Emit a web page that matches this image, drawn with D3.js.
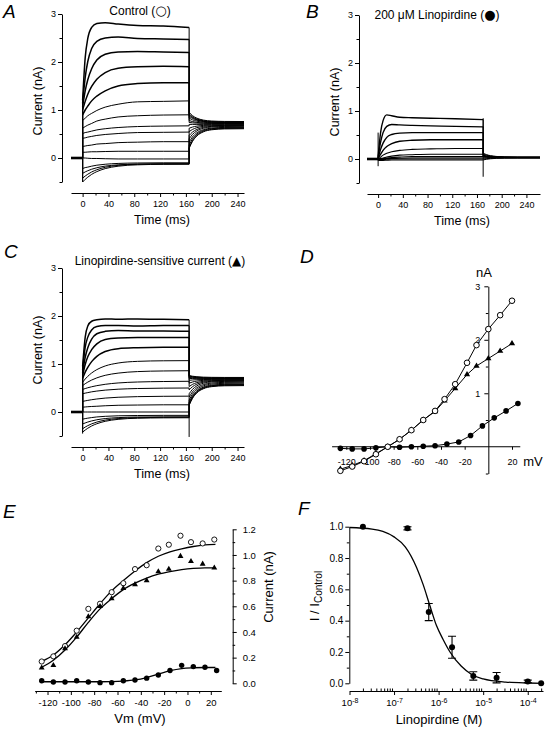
<!DOCTYPE html>
<html><head><meta charset="utf-8">
<script src="https://cdn.jsdelivr.net/npm/d3@7"></script>
<style>
body{margin:0;background:#fff;}
svg{display:block;}
</style></head><body>
<svg id="fig" width="549" height="730"></svg>
<script>
// ================= DATA =================
// Panels A, B, C: current traces (nA) sampled at the listed times (ms)
const pulseTimesAC = [0,4,8,14,22,35,55,85,125,165];
const tailTimesAC  = [165,170,177,187,200,220,250];
const pulseTimesB  = [0,4,8,14,22,35,55,85,125,170];
const tailTimesB   = [170,175,182,192,205,225,262];
const preTimes     = [-18,0];
const timeTickLabels = [0,40,80,120,160,200,240];

const controlPulse = [
 [1.20,2.09,2.49,2.72,2.80,2.82,2.79,2.76,2.75,2.72],
 [1.14,1.68,2.01,2.28,2.43,2.50,2.52,2.49,2.48,2.47],
 [1.07,1.40,1.63,1.86,2.04,2.16,2.21,2.22,2.21,2.20],
 [1.00,1.18,1.33,1.49,1.64,1.78,1.87,1.90,1.91,1.90],
 [0.90,1.00,1.08,1.19,1.29,1.40,1.50,1.55,1.57,1.57],
 [0.78,0.83,0.88,0.93,0.99,1.06,1.12,1.17,1.18,1.19],
 [0.62,0.655,0.685,0.72,0.77,0.81,0.855,0.88,0.895,0.90],
 [0.51,0.53,0.54,0.56,0.585,0.61,0.635,0.655,0.665,0.67],
 [0.41,0.42,0.435,0.45,0.47,0.49,0.51,0.53,0.535,0.54],
 [0.24,0.25,0.26,0.27,0.29,0.30,0.32,0.33,0.34,0.34],
 [0.12,0.12,0.125,0.13,0.13,0.135,0.14,0.14,0.14,0.14],
 [0.0,0.0,-0.005,-0.01,-0.01,-0.015,-0.02,-0.02,-0.02,-0.02],
 [-0.22,-0.20,-0.19,-0.17,-0.15,-0.13,-0.113,-0.104,-0.10,-0.10],
 [-0.32,-0.29,-0.265,-0.234,-0.203,-0.169,-0.142,-0.127,-0.121,-0.12],
 [-0.42,-0.376,-0.338,-0.291,-0.245,-0.194,-0.153,-0.13,-0.122,-0.12],
 [-0.50,-0.445,-0.399,-0.341,-0.284,-0.221,-0.171,-0.142,-0.132,-0.13]
];
const controlTail = [
 [0.95,0.885,0.83,0.79,0.77,0.762,0.76],
 [0.92,0.862,0.813,0.777,0.759,0.752,0.75],
 [0.90,0.845,0.799,0.766,0.749,0.742,0.74],
 [0.87,0.826,0.788,0.761,0.747,0.741,0.74],
 [0.83,0.796,0.767,0.746,0.735,0.731,0.73],
 [0.78,0.76,0.742,0.73,0.723,0.721,0.72],
 [0.74,0.733,0.727,0.723,0.721,0.72,0.72],
 [0.70,0.70,0.70,0.70,0.70,0.70,0.70],
 [0.62,0.644,0.664,0.679,0.686,0.689,0.69],
 [0.55,0.594,0.632,0.659,0.673,0.679,0.68],
 [0.47,0.538,0.596,0.638,0.659,0.668,0.67],
 [0.40,0.489,0.564,0.618,0.646,0.657,0.66],
 [0.33,0.436,0.526,0.59,0.623,0.637,0.64],
 [0.27,0.393,0.498,0.572,0.611,0.626,0.63],
 [0.22,0.356,0.473,0.556,0.598,0.616,0.62],
 [0.20,0.34,0.459,0.544,0.588,0.606,0.61]
];
const linoPulse = [
 [0.05,0.55,0.80,0.92,0.90,0.87,0.86,0.85,0.84,0.82],
 [0.03,0.35,0.55,0.68,0.72,0.71,0.70,0.69,0.68,0.67],
 [0.02,0.20,0.33,0.45,0.51,0.54,0.55,0.55,0.55,0.55],
 [0.01,0.10,0.18,0.26,0.32,0.37,0.39,0.40,0.40,0.40],
 [0.0,0.04,0.08,0.12,0.15,0.18,0.20,0.21,0.22,0.22],
 [0.0,0.01,0.02,0.04,0.06,0.08,0.09,0.10,0.10,0.10],
 [0.0,0.01,0.01,0.02,0.03,0.04,0.05,0.05,0.05,0.05],
 [0.0,0.0,0.005,0.01,0.01,0.015,0.02,0.02,0.02,0.02],
 [-0.01,-0.01,-0.01,-0.005,0,0,0,0,0,0],
 [-0.03,-0.03,-0.03,-0.025,-0.02,-0.02,-0.02,-0.02,-0.02,-0.02]
];
const linoTail = [
 [0.12,0.093,0.069,0.053,0.044,0.041,0.04],
 [0.10,0.08,0.062,0.05,0.043,0.04,0.04],
 [0.08,0.065,0.052,0.042,0.037,0.035,0.035],
 [0.07,0.058,0.048,0.041,0.037,0.035,0.035],
 [0.06,0.05,0.041,0.035,0.032,0.03,0.03],
 [0.05,0.043,0.037,0.033,0.031,0.03,0.03],
 [0.04,0.037,0.034,0.032,0.03,0.03,0.03],
 [0.02,0.023,0.026,0.028,0.03,0.03,0.03],
 [0.0,0.007,0.013,0.017,0.019,0.02,0.02],
 [-0.02,-0.006,0.005,0.014,0.018,0.02,0.02]
];
const sensPulse = [
 [0.95,1.56,1.79,1.89,1.92,1.94,1.93,1.94,1.93,1.92],
 [0.88,1.35,1.56,1.71,1.78,1.80,1.80,1.79,1.80,1.80],
 [0.82,1.14,1.34,1.52,1.63,1.68,1.70,1.69,1.69,1.68],
 [0.76,0.99,1.15,1.30,1.42,1.51,1.54,1.55,1.55,1.55],
 [0.70,0.83,0.93,1.05,1.16,1.26,1.32,1.34,1.35,1.35],
 [0.62,0.687,0.743,0.813,0.883,0.959,1.02,1.055,1.067,1.07],
 [0.55,0.589,0.623,0.666,0.711,0.764,0.81,0.842,0.855,0.86],
 [0.47,0.488,0.505,0.526,0.549,0.577,0.605,0.625,0.635,0.64],
 [0.38,0.393,0.404,0.42,0.436,0.456,0.475,0.489,0.497,0.50],
 [0.22,0.232,0.242,0.256,0.271,0.29,0.307,0.32,0.327,0.33],
 [0.10,0.105,0.11,0.115,0.12,0.13,0.14,0.145,0.15,0.15],
 [0.0,0.0,0.0,0.0,0.0,0.0,0.0,0.0,0.0,0.0],
 [-0.15,-0.138,-0.128,-0.116,-0.103,-0.09,-0.079,-0.073,-0.07,-0.07],
 [-0.25,-0.228,-0.209,-0.186,-0.162,-0.137,-0.117,-0.105,-0.101,-0.10],
 [-0.35,-0.314,-0.284,-0.247,-0.21,-0.169,-0.137,-0.118,-0.112,-0.11],
 [-0.42,-0.376,-0.338,-0.291,-0.245,-0.194,-0.153,-0.13,-0.122,-0.12]
];
const sensTail = [
 [0.76,0.746,0.735,0.726,0.722,0.72,0.72],
 [0.75,0.736,0.725,0.716,0.712,0.71,0.71],
 [0.74,0.726,0.715,0.706,0.702,0.70,0.70],
 [0.72,0.713,0.707,0.703,0.701,0.70,0.70],
 [0.70,0.697,0.694,0.692,0.69,0.69,0.69],
 [0.66,0.667,0.673,0.677,0.679,0.68,0.68],
 [0.60,0.624,0.644,0.659,0.666,0.669,0.67],
 [0.53,0.574,0.612,0.639,0.653,0.659,0.66],
 [0.46,0.525,0.58,0.62,0.64,0.648,0.65],
 [0.38,0.469,0.544,0.598,0.626,0.637,0.64],
 [0.31,0.416,0.506,0.57,0.603,0.617,0.62],
 [0.25,0.369,0.471,0.544,0.581,0.597,0.60],
 [0.20,0.33,0.44,0.519,0.559,0.576,0.58],
 [0.17,0.306,0.423,0.506,0.548,0.566,0.57],
 [0.15,0.29,0.409,0.494,0.538,0.556,0.56],
 [0.14,0.28,0.399,0.484,0.528,0.546,0.55]
];
// capacitive transients (time, low, high)
const transientsA = [{t:0, lo:-0.5, hi:1.2}];
const transientsB = [{t:0, lo:-0.15, hi:0.55},{t:170, lo:-0.37, hi:0.85}];
const transientsC = [{t:0, lo:-0.45, hi:0.95},{t:165, lo:-0.52, hi:0}];

// Panel D: I-V relations (mV, nA)
const ivVoltsCS  = [-125,-115,-105,-95,-85,-75,-65,-55,-45,-37,-28,-18,-10,0,10,20];
const ivControl  = [-0.45,-0.37,-0.27,-0.14,0.0,0.14,0.31,0.50,0.67,0.89,1.17,1.57,1.90,2.20,2.46,2.73];
const ivSens     = [-0.42,-0.35,-0.26,-0.13,0.0,0.14,0.31,0.50,0.66,0.86,1.09,1.35,1.51,1.65,1.79,1.93];
const ivVoltsL   = [-125,-115,-105,-95,-85,-75,-65,-55,-45,-35,-25,-15,-5,5,15,25];
const ivLino     = [-0.03,-0.04,-0.04,-0.02,0.0,-0.01,0.0,0.01,0.02,0.05,0.09,0.21,0.39,0.54,0.67,0.81];
const ivXTicks   = [-120,-100,-80,-60,-40,-20,20];
const ivYTicks   = [1,2,3];

// Panel E: tail current activation (mV, nA)
const actVoltsCS = [-125,-115,-105,-95,-85,-75,-65,-55,-45,-35,-25,-16,-6,3,13,23];
const actVoltsL  = [-125,-115,-105,-95,-85,-75,-65,-55,-45,-35,-25,-15,-5,5,15,25];
const actControl = [0.17,0.21,0.29,0.41,0.58,0.62,0.71,0.78,0.89,0.92,1.05,1.08,1.15,1.10,1.09,1.12];
const actSens    = [0.12,0.14,0.27,0.36,0.52,0.60,0.66,0.74,0.77,0.80,0.87,0.89,0.99,0.95,0.93,0.90];
const actLino    = [0.02,0.01,0.01,0.02,0.01,0.005,0.005,0.02,0.026,0.04,0.065,0.10,0.14,0.13,0.125,0.10];
const fitVolts   = [-125,-115,-105,-95,-85,-75,-65,-55,-45,-35,-25,-15,-5,5,15,24];
const fitControl = [0.17,0.22,0.30,0.40,0.51,0.62,0.72,0.80,0.875,0.94,0.99,1.025,1.048,1.066,1.078,1.083];
const fitSens    = [0.125,0.18,0.26,0.36,0.475,0.58,0.66,0.73,0.78,0.82,0.85,0.87,0.885,0.895,0.90,0.90];
const fitLino    = [0.012,0.012,0.012,0.012,0.012,0.012,0.013,0.017,0.026,0.045,0.072,0.098,0.115,0.121,0.123,0.123];
const actXTicks  = [-120,-100,-80,-60,-40,-20,0,20];
const actYTicks  = [0,0.2,0.4,0.6,0.8,1.0,1.2];

// Panel F: concentration-response (M, I/Icontrol)
const doseConc   = [2e-8,2e-7,6e-7,2e-6,6e-6,2e-5,1e-4,2e-4];
const doseMean   = [1.0,0.99,0.455,0.23,0.047,0.036,0.012,0.0];
const doseErr    = [0,0.01,0.055,0.07,0.027,0.033,0.008,0];
const hillConc   = [1e-8,3.2e-8,5.6e-8,1e-7,1.8e-7,3.2e-7,4.5e-7,6.3e-7,8.9e-7,1.26e-6,1.8e-6,3.2e-6,5.6e-6,1e-5,3.2e-5,1e-4,2.2e-4];
const hillFit    = [0.995,0.985,0.97,0.935,0.87,0.74,0.63,0.50,0.37,0.28,0.20,0.11,0.055,0.028,0.008,0.002,0.0];
const doseXTicks = [1e-8,1e-7,1e-6,1e-5,1e-4];
const doseYTicks = [0,0.2,0.4,0.6,0.8,1.0];

// ================= DRAWING =================
const FONT = '"Liberation Sans", Arial, Helvetica, sans-serif';
const SYMFONT = '"DejaVu Sans", sans-serif';
const svg = d3.select('#fig').attr('font-family', FONT);
svg.append('rect').attr('width',549).attr('height',730).attr('fill','#fff');

function addAxis(axis, tx, ty, fs) {
  const a = svg.append('g').attr('transform', `translate(${tx},${ty})`).call(axis);
  a.attr('font-family', FONT).attr('font-size', fs);
  a.selectAll('.domain').attr('stroke', '#000').attr('stroke-width', 1);
  a.selectAll('.tick line').attr('stroke', '#000');
  a.selectAll('.tick text').attr('fill', '#000');
  return a;
}
function addMinor(axis, tx, ty) {
  const a = svg.append('g').attr('transform', `translate(${tx},${ty})`).call(axis.tickFormat(() => ''));
  a.select('.domain').remove();
  a.selectAll('.tick line').attr('stroke', '#000');
  return a;
}
function text(x, y, s, fs, opts = {}) {
  const t = svg.append('text').attr('x', x).attr('y', y).attr('font-size', fs)
    .attr('text-anchor', opts.anchor || 'middle').attr('fill', '#000').text(s);
  if (opts.italic) t.attr('font-style', 'italic');
  if (opts.rotate) t.attr('transform', `rotate(-90,${x},${y})`).attr('dominant-baseline', 'central');
  return t;
}
function panelLetter(x, y, s) { text(x, y, s, 19, {anchor: 'start', italic: true}); }

function drawTraces(xs, ys, pulseT, tailT, pulse, tail, trans, widthFn) {
  const g = svg.append('g').attr('fill', 'none').attr('stroke', '#000');
  const curve = d3.line().x(d => xs(d[0])).y(d => ys(d[1])).curve(d3.curveMonotoneX);
  const lin = d3.line().x(d => xs(d[0])).y(d => ys(d[1]));
  const tEnd = pulseT[pulseT.length - 1];
  g.append('path').attr('d', lin(preTimes.map(t => [t, 0]))).attr('stroke-width', 2.6);
  trans.forEach(e => g.append('path').attr('d', lin([[e.t, e.lo], [e.t, e.hi]])).attr('stroke-width', 1));
  pulse.forEach((p, i) => {
    const w = widthFn(i);
    g.append('path').attr('d', lin([[0, 0], [0, p[0]]])).attr('stroke-width', 1);
    g.append('path').attr('d', curve(pulseT.map((t, j) => [t, p[j]]))).attr('stroke-width', w);
    g.append('path').attr('d', lin([[tEnd, p[p.length - 1]], [tEnd, tail[i][0]]])).attr('stroke-width', 1);
    g.append('path').attr('d', curve(tailT.map((t, j) => [t, tail[i][j]]))).attr('stroke-width', 1);
  });
}

function tracePanel(cfg) {
  const xs = d3.scaleLinear().domain(cfg.xDomain).range(cfg.xRange);
  const ys = d3.scaleLinear().domain([-0.5, 3]).range(cfg.yRange);
  drawTraces(xs, ys, cfg.pulseT, cfg.tailT, cfg.pulse, cfg.tail, cfg.trans, cfg.widthFn);
  addAxis(d3.axisLeft(ys).tickValues([0,1,2,3]).tickSize(4).tickSizeOuter(0).tickPadding(2).tickFormat(d3.format('d')), cfg.yAxisX, 0, 9);
  addMinor(d3.axisLeft(ys).tickValues([-0.5,0.5,1.5,2.5]).tickSize(2.5), cfg.yAxisX, 0);
  addAxis(d3.axisBottom(xs).tickValues(timeTickLabels).tickSize(4).tickSizeOuter(0).tickPadding(3.5).tickFormat(d3.format('d')), 0, cfg.xAxisY, 9);
  addMinor(d3.axisBottom(xs).tickValues([20,60,100,140,180,220]).tickSize(2.5), 0, cfg.xAxisY);
}
function titleWithSymbol(x, y, before, sym, symSize) {
  const t = text(x, y, before, 12);
  t.append('tspan').attr('font-family', SYMFONT).attr('font-size', symSize).text(sym);
  t.append('tspan').text(')');
}

// ---- Panel A ----
tracePanel({xDomain:[-18,250], xRange:[71,244], yRange:[182,14], yAxisX:62, xAxisY:193,
  pulseT:pulseTimesAC, tailT:tailTimesAC, pulse:controlPulse, tail:controlTail, trans:transientsA,
  widthFn: i => i < 5 ? 1.5 : 1.0});
panelLetter(3, 18, 'A');
titleWithSymbol(140, 15, 'Control (', '○', 13);
text(38, 101, 'Current (nA)', 12.5, {rotate: true});
text(162, 224, 'Time (ms)', 12.5);

// ---- Panel B ----
tracePanel({xDomain:[-18,262], xRange:[367,540], yRange:[183,15], yAxisX:359, xAxisY:194,
  pulseT:pulseTimesB, tailT:tailTimesB, pulse:linoPulse, tail:linoTail, trans:transientsB,
  widthFn: i => i < 4 ? 1.4 : 1.1});
panelLetter(306, 18, 'B');
titleWithSymbol(437, 19, '200 μM Linopirdine (', '●', 13);
text(335, 102, 'Current (nA)', 12.5, {rotate: true});
text(462, 225, 'Time (ms)', 12.5);

// ---- Panel C ----
tracePanel({xDomain:[-18,250], xRange:[71,244], yRange:[436,268], yAxisX:62, xAxisY:447,
  pulseT:pulseTimesAC, tailT:tailTimesAC, pulse:sensPulse, tail:sensTail, trans:transientsC,
  widthFn: i => i < 5 ? 1.5 : 1.0});
panelLetter(4, 258, 'C');
titleWithSymbol(160, 265, 'Linopirdine-sensitive current (', '▲', 12);
text(38, 350, 'Current (nA)', 12.5, {rotate: true});
text(162, 478, 'Time (ms)', 12.5);

// ---- Panel D ----
{
  const xs = d3.scaleLinear().domain([-120, 20]).range([346.3, 512]);
  const ys = d3.scaleLinear().domain([-0.5, 3]).range([473.5, 286.3]);
  const x0 = xs(0), y0 = ys(0);
  addAxis(d3.axisBottom(xs).tickValues(ivXTicks).tickSize(3).tickSizeOuter(0).tickPadding(9).tickFormat(d => String(d)), 0, y0, 9)
    .select('.domain').attr('d', `M${xs(-132)},0H${xs(27)}`);
  addAxis(d3.axisLeft(ys).tickValues(ivYTicks).tickSize(4).tickSizeOuter(0).tickPadding(4).tickFormat(d3.format('d')), x0, 0, 9);
  addMinor(d3.axisLeft(ys).tickValues([-0.5,0.5,1.5,2.5]).tickSize(2.5), x0, 0);
  const g = svg.append('g');
  const ln = d3.line().x(d => xs(d[0])).y(d => ys(d[1]));
  g.append('path').attr('d', ln(ivVoltsL.map((v,i) => [v, ivLino[i]]))).attr('fill','none').attr('stroke','#000');
  g.append('path').attr('d', ln(ivVoltsCS.map((v,i) => [v, ivSens[i]]))).attr('fill','none').attr('stroke','#000');
  g.append('path').attr('d', ln(ivVoltsCS.map((v,i) => [v, ivControl[i]]))).attr('fill','none').attr('stroke','#000');
  ivVoltsL.forEach((v,i) => g.append('circle').attr('cx', xs(v)).attr('cy', ys(ivLino[i])).attr('r', 2.8).attr('fill','#000'));
  ivVoltsCS.forEach((v,i) => g.append('path').attr('d', d3.symbol(d3.symbolTriangle, 17)())
    .attr('transform', `translate(${xs(v)},${ys(ivSens[i])})`).attr('fill','#000'));
  ivVoltsCS.forEach((v,i) => g.append('circle').attr('cx', xs(v)).attr('cy', ys(ivControl[i])).attr('r', 2.8)
    .attr('fill','#fff').attr('stroke','#000').attr('stroke-width', 1));
  panelLetter(300, 263, 'D');
  text(484, 277, 'nA', 13);
  text(533, 466, 'mV', 13);
}

// ---- Panel E ----
{
  const xs = d3.scaleLinear().domain([-131, 29]).range([34.7, 221.3]);
  const ys = d3.scaleLinear().domain([0, 1.2]).range([683.3, 529.3]);
  addAxis(d3.axisBottom(xs).tickValues(actXTicks).tickSize(4).tickSizeOuter(0).tickPadding(4).tickFormat(d => String(d)), 0, 691, 9.5);
  addMinor(d3.axisBottom(xs).tickValues([-130,-110,-90,-70,-50,-30,-10,10]).tickSize(2.5), 0, 691);
  addAxis(d3.axisRight(ys).tickValues(actYTicks).tickSize(4).tickSizeOuter(0).tickPadding(6).tickFormat(d3.format('.1f')), 232.7, 0, 9.5);
  addMinor(d3.axisRight(ys).tickValues([0.1,0.3,0.5,0.7,0.9,1.1]).tickSize(2.5), 232.7, 0);
  const g = svg.append('g');
  const cv = d3.line().x(d => xs(d[0])).y(d => ys(d[1])).curve(d3.curveMonotoneX);
  [fitControl, fitSens, fitLino].forEach(f =>
    g.append('path').attr('d', cv(fitVolts.map((v,i) => [v, f[i]]))).attr('fill','none').attr('stroke','#000').attr('stroke-width', 1.3));
  actVoltsCS.forEach((v,i) => g.append('circle').attr('cx', xs(v)).attr('cy', ys(actControl[i])).attr('r', 2.6)
    .attr('fill','#fff').attr('stroke','#000').attr('stroke-width', 0.9));
  actVoltsCS.forEach((v,i) => g.append('path').attr('d', d3.symbol(d3.symbolTriangle, 15)())
    .attr('transform', `translate(${xs(v)},${ys(actSens[i])})`).attr('fill','#000'));
  actVoltsL.forEach((v,i) => g.append('circle').attr('cx', xs(v)).attr('cy', ys(actLino[i])).attr('r', 2.7).attr('fill','#000'));
  panelLetter(3, 518, 'E');
  text(140, 723, 'Vm (mV)', 13);
  text(268, 587, 'Current (nA)', 13, {rotate: true});
}

// ---- Panel F ----
{
  const xs = d3.scaleLog().domain([1e-8, 2.2e-4]).range([349.5, 543]);
  const ys = d3.scaleLinear().domain([0, 1]).range([683.3, 526.7]);
  const xa = addAxis(d3.axisBottom(xs).tickValues(doseXTicks).tickSize(4).tickSizeOuter(0).tickPadding(4).tickFormat(() => ''), 0, 691, 9.5);
  xa.selectAll('.tick text').each(function(d) {
    const t = d3.select(this);
    t.text('10');
    t.append('tspan').attr('dy', '-0.45em').attr('font-size', 7).text(String(Math.round(Math.log10(d))));
  });
  const minors = [];
  [-8,-7,-6,-5,-4].forEach(e => [2,3,4,5,6,7,8,9].forEach(k => { const v = k * Math.pow(10, e); if (v < 2.2e-4) minors.push(v); }));
  addMinor(d3.axisBottom(xs).tickValues(minors).tickSize(-2.5), 0, 691);
  addAxis(d3.axisLeft(ys).tickValues(doseYTicks).tickSize(4).tickSizeOuter(0).tickPadding(2).tickFormat(d3.format('.1f')), 349.3, 0, 10);
  addMinor(d3.axisLeft(ys).tickValues([0.1,0.3,0.5,0.7,0.9]).tickSize(2.5), 349.3, 0);
  const g = svg.append('g');
  const cv = d3.line().x(d => xs(d[0])).y(d => ys(d[1])).curve(d3.curveMonotoneX);
  g.append('path').attr('d', cv(hillConc.map((c,i) => [c, hillFit[i]]))).attr('fill','none').attr('stroke','#000').attr('stroke-width', 1.3);
  doseConc.forEach((c,i) => {
    if (doseErr[i] > 0) {
      const x = xs(c), yl = ys(doseMean[i] - doseErr[i]), yh = ys(doseMean[i] + doseErr[i]);
      g.append('path').attr('d', `M${x},${yl}V${yh}M${x-4},${yl}H${x+4}M${x-4},${yh}H${x+4}`).attr('stroke','#000').attr('fill','none').attr('stroke-width', 1.1);
    }
    g.append('circle').attr('cx', xs(c)).attr('cy', ys(doseMean[i])).attr('r', 3).attr('fill','#000');
  });
  panelLetter(298, 515, 'F');
  text(439, 724, 'Linopirdine (M)', 13);
  const yl = text(314, 596, 'I / I', 13, {rotate: true});
  yl.append('tspan').attr('font-size', 10).attr('dy', '0.35em').text('Control');
}
</script>
</body></html>
